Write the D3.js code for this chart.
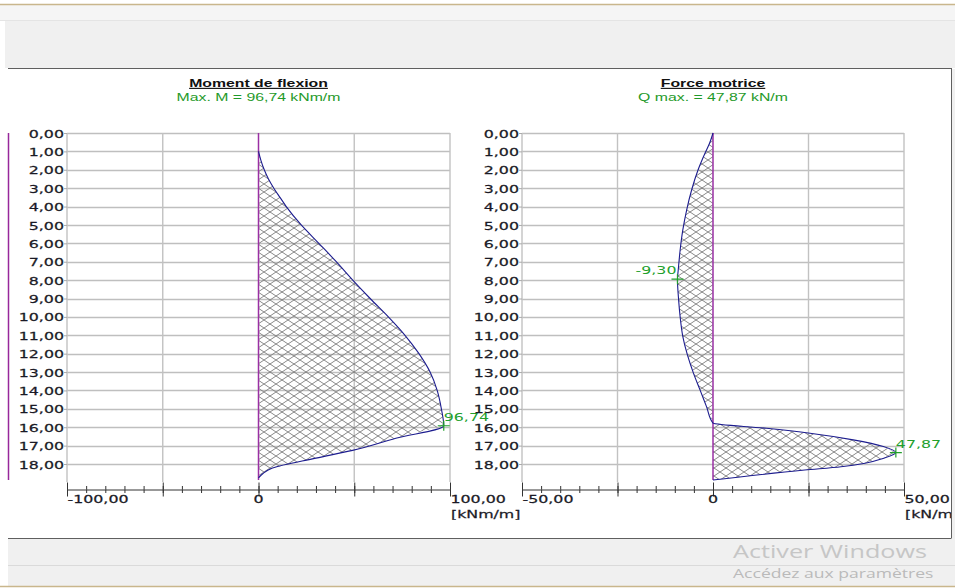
<!DOCTYPE html>
<html>
<head>
<meta charset="utf-8">
<script src="https://cdn.jsdelivr.net/npm/d3@7"></script>
<style>
  html, body { margin: 0; padding: 0; background: #fff; }
  svg { display: block; }
  .lbl { font-family: "DejaVu Sans", Verdana, sans-serif; font-size: 11.3px; fill: #1a1a26; stroke: #1a1a26; stroke-width: 0.25px; }
  .ttl { font-family: "Liberation Sans", Arial, sans-serif; font-size: 11.3px; font-weight: bold; fill: #111; text-decoration: underline; }
  .sub { font-family: "Liberation Sans", Arial, sans-serif; font-size: 11.3px; fill: #1f9a2a; }
  .val { font-family: "DejaVu Sans", Verdana, sans-serif; font-size: 11.3px; fill: #22a02c; }
  .wm1 { font-family: "Open Sans", "Noto Sans", sans-serif; font-size: 18px; fill: #c6c6c6; }
  .wm2 { font-family: "Open Sans", "Noto Sans", sans-serif; font-size: 13.5px; fill: #bababa; }
</style>
</head>
<body>
<svg id="chart" width="955" height="588"></svg>
<script>
// Depth ticks (m) shared by both diagrams
const depthTicks = d3.range(0, 19);

// Bending moment along the pile (depth in m, M in kNm/m)
const momentDepth = [1.0, 1.5, 2.0, 2.5, 3.0, 3.5, 4.0, 5.0, 6.0, 7.0, 8.0, 9.0, 10.0, 11.0, 12.0, 13.0, 14.0, 15.0, 15.92, 16.6, 17.26, 17.68, 18.22, 18.5, 18.75];
const momentValue = [0, 1.3, 3.0, 5.2, 8.0, 11.2, 14.5, 22.3, 31.5, 40.6, 49.2, 58.3, 67.8, 76.5, 83.8, 89.6, 93.3, 95.5, 96.74, 71.7, 49.1, 30.0, 7.3, 2.5, 0];
const momentMax = { depth: 15.92, value: 96.74 };

// Shear force along the pile (depth in m, Q in kN/m)
const shearDepth = [0, 0.56, 1.1, 2.0, 3.1, 4.19, 5.27, 6.36, 7.45, 7.95, 9.08, 10.0, 11.07, 12.07, 13.07, 13.97, 14.88, 15.78, 16.06, 16.33, 16.69, 17.05, 17.38, 17.7, 17.96, 18.15, 18.33, 18.87];
const shearValue = [0, -0.9, -2.1, -3.9, -5.6, -6.9, -7.9, -8.6, -9.1, -9.30, -9.0, -8.6, -7.9, -6.7, -5.1, -3.4, -1.7, 0, 14.0, 25.4, 36.7, 44.6, 47.87, 44.5, 39.8, 33.5, 24.0, 0];
const shearMin = { depth: 7.95, value: -9.30 };
const shearMax = { depth: 17.38, value: 47.87 };

// Axis settings
const momentMajor = [-100, -50, 0, 50, 100];
const momentMinor = d3.range(-100, 101, 10);
const shearMajor = [-50, -25, 0, 25, 50];
const shearMinor = d3.range(-50, 51, 5);
const momentLabels = [-100, 0, 100];
const shearLabels = [-50, 0, 50];

const SX = 1.4; // horizontal stretch of the text

const fr = d3.formatLocale({ decimal: ",", thousands: " ", grouping: [3], currency: ["", " €"], minus: "-" });
const f2 = fr.format(".2f");
const fmtX = d => d === 0 ? "0" : f2(d);

const svg = d3.select("#chart");

// ----- window chrome -----
svg.append("rect").attr("width", 955).attr("height", 588).attr("fill", "#fff");
svg.append("rect").attr("x", 0).attr("y", 5).attr("width", 955).attr("height", 15).attr("fill", "#f5f5f5");
svg.append("line").attr("x1", 0).attr("x2", 955).attr("y1", 4.5).attr("y2", 4.5).attr("stroke", "#c9b68c").attr("stroke-width", 1.5);
svg.append("line").attr("x1", 0).attr("x2", 955).attr("y1", 20.5).attr("y2", 20.5).attr("stroke", "#e4e4e4");
svg.append("rect").attr("x", 5).attr("y", 21).attr("width", 950).attr("height", 47).attr("fill", "#f0f0f0");
svg.append("rect").attr("x", 8).attr("y", 538).attr("width", 947).attr("height", 48).attr("fill", "#f0f0f0");
svg.append("line").attr("x1", 8).attr("x2", 955).attr("y1", 565.5).attr("y2", 565.5).attr("stroke", "#dadada");
svg.append("line").attr("x1", 0).attr("x2", 955).attr("y1", 586.5).attr("y2", 586.5).attr("stroke", "#c9b68c").attr("stroke-width", 1.5);
svg.append("path").attr("d", "M8,68.5H951.5M8,538.5H951.5").attr("fill", "none").attr("stroke", "#5f5f5f");

// ----- hatch pattern -----
const defs = svg.append("defs");
defs.append("pattern").attr("id", "hatch").attr("patternUnits", "userSpaceOnUse")
  .attr("width", 12).attr("height", 8)
  .append("path").attr("d", "M0,0L12,8M0,8L12,0")
  .attr("stroke", "#7a7a7a").attr("stroke-width", 0.9).attr("fill", "none");

function addText(parent, x, y, str, cls, anchor) {
  return parent.append("text").attr("class", cls)
    .attr("transform", `translate(${x},${y}) scale(${SX},1)`)
    .attr("text-anchor", anchor || "start").text(str);
}

const y = d3.scaleLinear().domain([0, 18]).range([133, 464]);
const yTop = y(0), yBottom = 482, axisY = 489.5;

// pile line at the left edge
svg.append("line").attr("x1", 8.5).attr("x2", 8.5).attr("y1", yTop).attr("y2", 480)
  .attr("stroke", "#97289b").attr("stroke-width", 1.5);

function diagram(cfg) {
  const x = d3.scaleLinear().domain(cfg.domain).range(cfg.range);
  const g = svg.append("g");

  // horizontal grid
  g.append("g").selectAll("line").data(depthTicks).join("line")
    .attr("x1", cfg.range[0]).attr("x2", cfg.range[1])
    .attr("y1", d => Math.round(y(d)) + 0.5).attr("y2", d => Math.round(y(d)) + 0.5)
    .attr("stroke", "#bfbfbf").attr("stroke-width", 1.4);
  // vertical grid
  g.append("g").selectAll("line").data(cfg.major.filter(d => d !== 0)).join("line")
    .attr("x1", d => x(d)).attr("x2", d => x(d))
    .attr("y1", yTop).attr("y2", yBottom)
    .attr("stroke", "#c2c2c2").attr("stroke-width", 1.4);

  // depth axis
  const ya = g.append("g").attr("transform", `translate(${cfg.range[0]},0)`)
    .call(d3.axisLeft(y).tickValues(depthTicks).tickSize(3).tickFormat(f2));
  ya.select(".domain").remove();
  ya.selectAll(".tick line").attr("stroke", "#aaa");
  ya.selectAll(".tick text").attr("class", "lbl").attr("x", null).attr("dy", "0.36em")
    .attr("transform", `translate(-3,0) scale(${SX},1)`)
    .attr("font-family", null).attr("font-size", null).attr("fill", null);

  // hatched area and outline
  const pts = cfg.depth.map((d, i) => [d, cfg.values[i]]);
  g.append("path").datum(pts)
    .attr("d", d3.area().x0(x(0)).x1(p => x(p[1])).y(p => y(p[0])))
    .attr("fill", "url(#hatch)");
  // zero line
  g.append("line").attr("x1", x(0)).attr("x2", x(0)).attr("y1", yTop).attr("y2", 480)
    .attr("stroke", "#9a30a4").attr("stroke-width", 1.5);
  g.append("path").datum(pts)
    .attr("d", d3.line().curve(d3.curveMonotoneY).x(p => x(p[1])).y(p => y(p[0])))
    .attr("fill", "none").attr("stroke", "#1c1c8e").attr("stroke-width", 1.1);

  // value axis
  const axG = g.append("g").attr("transform", `translate(0,${axisY})`);
  const minorB = axG.append("g").call(d3.axisBottom(x).tickValues(cfg.minor).tickSizeInner(3.5).tickSizeOuter(0).tickFormat(""));
  const minorT = axG.append("g").call(d3.axisTop(x).tickValues(cfg.minor).tickSizeInner(3.5).tickSizeOuter(0).tickFormat(""));
  const majorB = axG.append("g").call(d3.axisBottom(x).tickValues(cfg.major).tickSizeInner(7).tickSizeOuter(0).tickFormat(""));
  const majorT = axG.append("g").call(d3.axisTop(x).tickValues(cfg.major).tickSizeInner(7).tickSizeOuter(0).tickFormat(""));
  [minorT, majorB, majorT].forEach(s => s.select(".domain").remove());
  axG.selectAll("line").attr("stroke", "#333");
  minorB.select(".domain").attr("stroke", "#333");

  cfg.labels.forEach((v, i) => {
    const anchor = i === 1 ? "middle" : "start";
    addText(g, x(v) + (i === 1 ? 0 : 0.5), 502.5, fmtX(v), "lbl", anchor);
  });
  addText(g, x(cfg.domain[1]) + 1, 517.5, cfg.unit, "lbl", "start");

  // titles
  const cx = x(0);
  addText(g, cx, 87, cfg.title, "ttl", "middle");
  addText(g, cx, 101, cfg.subtitle, "sub", "middle");

  // extreme markers
  cfg.markers.forEach(m => {
    const mx = x(m.value), my = y(m.depth);
    g.append("path").attr("d", `M${mx - 6},${my}H${mx + 6}M${mx},${my - 5}V${my + 5}`)
      .attr("stroke", "#22a02c").attr("stroke-width", 1.2);
    addText(g, m.anchor === "end" ? mx - 1 : mx, my - 5, f2(m.value), "val", m.anchor);
  });
}

diagram({
  domain: [-100, 100], range: [67, 450],
  major: momentMajor, minor: momentMinor, labels: momentLabels,
  depth: momentDepth, values: momentValue,
  unit: "[kNm/m]", title: "Moment de flexion", subtitle: "Max. M = 96,74 kNm/m",
  markers: [{ ...momentMax, anchor: "start" }]
});

diagram({
  domain: [-50, 50], range: [522, 904],
  major: shearMajor, minor: shearMinor, labels: shearLabels,
  depth: shearDepth, values: shearValue,
  unit: "[kN/m]", title: "Force motrice", subtitle: "Q max. = 47,87 kN/m",
  markers: [{ ...shearMin, anchor: "end" }, { ...shearMax, anchor: "start" }]
});

// right border of the panel, over the clipped unit label
svg.append("rect").attr("x", 952).attr("y", 69).attr("width", 3).attr("height", 469).attr("fill", "#f0f0f0");
svg.append("line").attr("x1", 951.5).attr("x2", 951.5).attr("y1", 68).attr("y2", 538).attr("stroke", "#5f5f5f");

// system watermark
svg.append("text").attr("class", "wm1").attr("transform", "translate(733,558) scale(1.4,1)").text("Activer Windows");
svg.append("text").attr("class", "wm2").attr("transform", "translate(733,578) scale(1.3,1)").text("Accédez aux paramètres");
</script>
</body>
</html>
